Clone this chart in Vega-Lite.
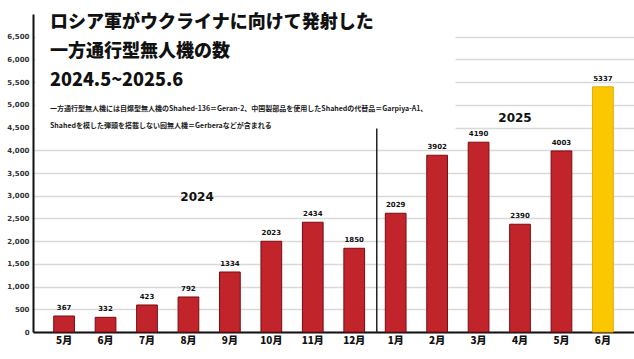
{
  "$schema": "https://vega.github.io/schema/vega-lite/v6.json",
  "width": 601,
  "height": 318,
  "autosize": {"type": "none"},
  "padding": {"left": 33, "top": 14, "right": 0, "bottom": 27},
  "background": "white",
  "title": {
    "text": ["ロシア軍がウクライナに向けて発射した", "一方通行型無人機の数", "2024.5~2025.6"],
    "subtitle": ["一方通行型無人機には自爆型無人機のShahed-136＝Geran-2、中国製部品を使用したShahedの代替品＝Garpiya-A1、", "Shahedを模した弾頭を搭載しない囮無人機＝Gerberaなどが含まれる"],
    "anchor": "start",
    "frame": "group",
    "orient": "top",
    "baseline": "top",
    "offset": 0,
    "dx": 17,
    "dy": 115,
    "font": "Noto Sans CJK JP",
    "fontSize": 18,
    "fontWeight": 900,
    "lineHeight": 29,
    "color": "#111111",
    "subtitleFont": "Noto Sans CJK JP",
    "subtitleFontSize": 7,
    "subtitleFontWeight": 700,
    "subtitleLineHeight": 17,
    "subtitleColor": "#222222",
    "subtitlePadding": 15
  },
  "datasets": {
    "bars": [
      {"key": "2024-05", "value": 352, "label": "367", "year": "2024"},
      {"key": "2024-06", "value": 323, "label": "332", "year": "2024"},
      {"key": "2024-07", "value": 595, "label": "423", "year": "2024"},
      {"key": "2024-08", "value": 771, "label": "792", "year": "2024"},
      {"key": "2024-09", "value": 1321, "label": "1334", "year": "2024"},
      {"key": "2024-10", "value": 1997, "label": "2023", "year": "2024"},
      {"key": "2024-11", "value": 2416, "label": "2434", "year": "2024"},
      {"key": "2024-12", "value": 1843, "label": "1850", "year": "2024"},
      {"key": "2025-01", "value": 2614, "label": "2029", "year": "2025"},
      {"key": "2025-02", "value": 3891, "label": "3902", "year": "2025"},
      {"key": "2025-03", "value": 4178, "label": "4190", "year": "2025"},
      {"key": "2025-04", "value": 2372, "label": "2390", "year": "2025"},
      {"key": "2025-05", "value": 3986, "label": "4003", "year": "2025"},
      {"key": "2025-06", "value": 5396, "label": "5337", "year": "latest"}
    ],
    "cover": [{"xa": 0.004, "xb": 0.703, "ya": 4250, "yb": 7000}],
    "divider": [{"xq": 0.572, "ya": 0, "yb": 4480}],
    "years": [
      {"xq": 0.273, "yv": 2973, "t": "2024"},
      {"xq": 0.802, "yv": 4713, "t": "2025"}
    ]
  },
  "encoding": {
    "y": {
      "type": "quantitative",
      "scale": {"domain": [0, 7000]},
      "axis": {
        "title": null,
        "values": [0, 500, 1000, 1500, 2000, 2500, 3000, 3500, 4000, 4500, 5000, 5500, 6000, 6500],
        "labelExpr": "format(datum.value, ',.0f')",
        "labelFont": "DejaVu Sans",
        "labelFontSize": 7,
        "labelFontWeight": 700,
        "labelColor": "#333333",
        "labelPadding": 4,
        "ticks": false,
        "domainColor": "#111111",
        "domainWidth": 2,
        "grid": true,
        "gridColor": "#d9d9d9",
        "gridWidth": 1.5
      }
    }
  },
  "layer": [
    {
      "data": {"name": "cover"},
      "mark": {"type": "rect", "color": "white"},
      "encoding": {
        "x": {"field": "xa", "type": "quantitative", "scale": {"domain": [0, 1]}, "axis": null},
        "x2": {"field": "xb"},
        "y": {"field": "ya", "type": "quantitative"},
        "y2": {"field": "yb"}
      }
    },
    {
      "data": {"name": "bars"},
      "layer": [
        {
          "mark": {"type": "bar", "strokeWidth": 1},
          "encoding": {
            "x": {
              "field": "key", "type": "nominal", "sort": null,
              "scale": {"paddingInner": 0.5, "paddingOuter": 0.5},
              "axis": {
                "title": null,
                "labelExpr": "toNumber(slice(datum.value, 5)) + '月'",
                "labelAngle": 0,
                "labelFont": "Noto Sans CJK JP",
                "labelFontSize": 10,
                "labelFontWeight": 900,
                "labelColor": "#111111",
                "labelPadding": 3,
                "ticks": false,
                "domainColor": "#111111",
                "domainWidth": 2,
                "grid": false
              }
            },
            "y": {"field": "value", "type": "quantitative"},
            "color": {
              "field": "year", "type": "nominal", "legend": null,
              "scale": {"domain": ["2024", "2025", "latest"], "range": ["#c1242b", "#c1242b", "#fbc700"]}
            },
            "stroke": {
              "field": "year", "type": "nominal", "legend": null,
              "scale": {"domain": ["2024", "2025", "latest"], "range": ["#7a0c10", "#7a0c10", "#e3aa00"]}
            }
          }
        },
        {
          "mark": {"type": "text", "dy": -5, "baseline": "bottom", "font": "DejaVu Sans", "fontSize": 7, "fontWeight": "bold", "color": "#111111"},
          "encoding": {
            "x": {"field": "key", "type": "nominal", "sort": null},
            "y": {"field": "value", "type": "quantitative"},
            "text": {"field": "label"}
          }
        }
      ]
    },
    {
      "data": {"name": "divider"},
      "mark": {"type": "rule", "color": "#222222", "strokeWidth": 1.5},
      "encoding": {
        "x": {"field": "xq", "type": "quantitative", "scale": {"domain": [0, 1]}, "axis": null},
        "y": {"field": "ya", "type": "quantitative"},
        "y2": {"field": "yb"}
      }
    },
    {
      "data": {"name": "years"},
      "mark": {"type": "text", "font": "DejaVu Sans", "fontSize": 12, "fontWeight": "bold", "color": "#111111"},
      "encoding": {
        "x": {"field": "xq", "type": "quantitative", "scale": {"domain": [0, 1]}, "axis": null},
        "y": {"field": "yv", "type": "quantitative"},
        "text": {"field": "t"}
      }
    }
  ],
  "resolve": {"scale": {"x": "independent", "color": "independent", "stroke": "independent"}},
  "config": {"view": {"stroke": null}}
}
